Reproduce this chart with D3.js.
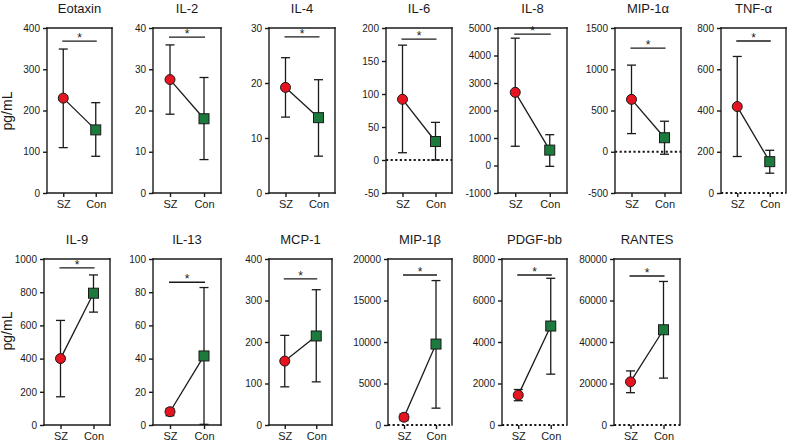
<!DOCTYPE html>
<html><head><meta charset="utf-8">
<script src="https://cdn.jsdelivr.net/npm/d3@7"></script>
<style>body{margin:0;background:#fff}svg{display:block}</style>
</head><body><svg id="c" width="790" height="448"></svg>
<script>
// ---------- data ----------
const groups = ["SZ", "Con"];
const analytes = ["Eotaxin","IL-2","IL-4","IL-6","IL-8","MIP-1α","TNF-α","IL-9","IL-13","MCP-1","MIP-1β","PDGF-bb","RANTES"];
const szMean  = [230, 27.5, 19.2, 92, 2660, 635, 419, 400, 8, 154, 935, 1440, 20800];
const szLow   = [110, 19.1, 13.8, 11, 700, 220, 177, 170, 5.6, 92, 530, 1170, 15570];
const szHigh  = [349, 35.9, 24.6, 174, 4630, 1050, 662, 630, 10, 216, 1340, 1710, 26070];
const conMean = [153, 18.0, 13.7, 28, 560, 170, 152, 794, 41.6, 214.5, 9750, 4770, 45900];
const conLow  = [89, 8.1, 6.7, 0, -30, -30, 96, 680, 0.4, 104, 2030, 2450, 22600];
const conHigh = [219, 28.0, 20.6, 57, 1120, 370, 207, 904, 82.8, 326, 17400, 7070, 69180];
const yMin = [0, 0, 0, -50, -1000, -500, 0, 0, 0, 0, 0, 0, 0];
const yMax = [400, 40, 30, 200, 5000, 1500, 800, 1000, 100, 400, 20000, 8000, 80000];
const yTicks = [
  [0,100,200,300,400],
  [0,10,20,30,40],
  [0,10,20,30],
  [-50,0,50,100,150,200],
  [-1000,0,1000,2000,3000,4000,5000],
  [-500,0,500,1000,1500],
  [0,200,400,600,800],
  [0,200,400,600,800,1000],
  [0,20,40,60,80,100],
  [0,100,200,300,400],
  [0,5000,10000,15000,20000],
  [0,2000,4000,6000,8000],
  [0,20000,40000,60000,80000]
];
const sigLevel = [368, 37.8, 28.4, 183, 4780, 1256, 737, 946, 86, 352, 18070, 7229, 71800];
const sigLabel = "*";
const showZeroLine = [false,false,false,true,false,true,true,false,false,false,true,true,true];
const yTitle = "pg/mL";

// ---------- layout ----------
const boxes = [
  [47,112,28,193],[153,221,28,193],[269,335,28,193],[386,452,28,193],
  [498,567,28,193],[615,681,28,193],[721,786,28,193],
  [44,110,259,425],[153,221,259,425],[269,332,259,425],[388,452,259,425],
  [502,567,259,425],[614,680,259,425]
];
const RED = "#e5141f", GREEN = "#1b7a3c", INK = "#1a1a1a";
const FONT = "'Liberation Sans', Arial, Helvetica, sans-serif";

const svg = d3.select("#c").attr("font-family", FONT);
svg.append("rect").attr("width",790).attr("height",448).attr("fill","#fff");

// y titles
[[12,111],[12,331]].forEach(([tx,ty]) => {
  svg.append("text").attr("transform",`translate(${tx},${ty}) rotate(-90)`)
    .attr("text-anchor","middle").attr("font-size",14).attr("fill",INK).text(yTitle);
});

analytes.forEach((name, i) => {
  const [x0, x1, y0, y1] = boxes[i];
  const g = svg.append("g");
  const x = d3.scalePoint().domain(groups).range([x0, x1]).padding(0.5);
  const y = d3.scaleLinear().domain([yMin[i], yMax[i]]).range([y1, y0]);

  g.append("text").attr("x",(x0+x1)/2).attr("y", y0-15).attr("text-anchor","middle")
    .attr("font-size",13).attr("fill",INK).text(name);

  // y axis
  const ya = g.append("g").attr("transform",`translate(${x0},0)`)
    .call(d3.axisLeft(y).tickValues(yTicks[i]).tickSize(4).tickPadding(3).tickFormat(d => String(d)));
  ya.select(".domain").remove();
  ya.selectAll("line").attr("stroke",INK).attr("stroke-width",1.4);
  ya.selectAll("text").attr("font-size",10).attr("font-family",FONT).attr("fill",INK);

  // x axis
  const xa = g.append("g").attr("transform",`translate(0,${y1})`)
    .call(d3.axisBottom(x).tickSize(4).tickPadding(3));
  xa.select(".domain").remove();
  xa.selectAll("line").attr("stroke",INK).attr("stroke-width",1.4);
  xa.selectAll("text").attr("font-size",11).attr("font-family",FONT).attr("fill",INK);

  // frame
  const bottomIsZero = showZeroLine[i] && yMin[i] === 0;
  const fr = [[x0,y1,x0,y0],[x0,y0,x1,y0],[x1,y0,x1,y1]];
  if (!bottomIsZero) fr.push([x0,y1,x1,y1]);
  fr.forEach(([a,b,c,d]) => g.append("line").attr("x1",a).attr("y1",b).attr("x2",c).attr("y2",d)
    .attr("stroke",INK).attr("stroke-width",1.4).attr("stroke-linecap","square"));

  if (showZeroLine[i]) {
    g.append("line").attr("x1",x0).attr("x2",x1).attr("y1",y(0)).attr("y2",y(0))
      .attr("stroke",INK).attr("stroke-width",2.2).attr("stroke-dasharray","2.2,2.4");
  }

  // significance bar
  const sy = y(sigLevel[i]);
  g.append("line").attr("x1",x("SZ")-1).attr("x2",x("Con")+1).attr("y1",sy).attr("y2",sy)
    .attr("stroke",INK).attr("stroke-width",1.3);
  g.append("text").attr("x",(x("SZ")+x("Con"))/2).attr("y",sy+1).attr("text-anchor","middle")
    .attr("font-size",12).attr("fill",INK).text(sigLabel);

  const pts = [
    {grp:"SZ", m:szMean[i], lo:szLow[i], hi:szHigh[i]},
    {grp:"Con", m:conMean[i], lo:conLow[i], hi:conHigh[i]}
  ];
  // error bars
  pts.forEach(p => {
    const cx = x(p.grp);
    g.append("line").attr("x1",cx).attr("x2",cx).attr("y1",y(p.lo)).attr("y2",y(p.hi))
      .attr("stroke",INK).attr("stroke-width",1.3);
    [p.lo, p.hi].forEach(v => g.append("line").attr("x1",cx-4.5).attr("x2",cx+4.5)
      .attr("y1",y(v)).attr("y2",y(v)).attr("stroke",INK).attr("stroke-width",1.3));
  });
  // connecting line
  g.append("path").datum(pts)
    .attr("d", d3.line().x(p => x(p.grp)).y(p => y(p.m)))
    .attr("fill","none").attr("stroke",INK).attr("stroke-width",1.3);
  // markers
  g.append("circle").attr("cx",x("SZ")).attr("cy",y(pts[0].m)).attr("r",5)
    .attr("fill",RED).attr("stroke",INK).attr("stroke-width",1);
  g.append("rect").attr("x",x("Con")-5).attr("y",y(pts[1].m)-5).attr("width",10).attr("height",10)
    .attr("fill",GREEN).attr("stroke",INK).attr("stroke-width",1);
});
</script>
</body></html>
